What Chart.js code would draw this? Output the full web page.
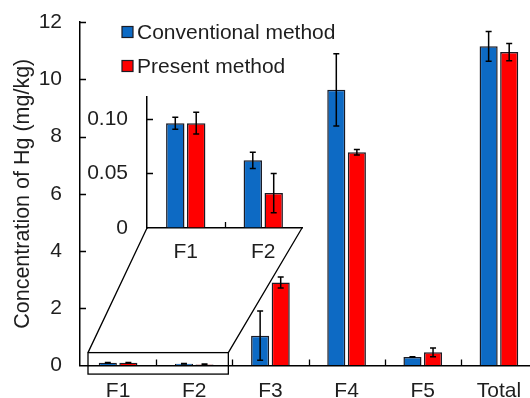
<!DOCTYPE html>
<html>
<head>
<meta charset="utf-8">
<script src="https://cdn.jsdelivr.net/npm/chart.js@4.4.0/dist/chart.umd.min.js"></script>
<style>
  html, body { margin: 0; padding: 0; background: #fff; overflow: hidden; width: 530px; height: 398px; }
  #wrap { position: relative; width: 530px; height: 398px; overflow: hidden; }
  #main { position: absolute; left: 0; top: 0; }
  #inset { position: absolute; left: 60px; top: 85px; }
</style>
</head>
<body>
<div id="wrap">
  <canvas id="main" width="540" height="398"></canvas>
  <canvas id="inset" width="252" height="185"></canvas>
</div>
<script>
// ---- data ----
const categories = ['F1', 'F2', 'F3', 'F4', 'F5', 'Total'];
const conventional = [0.096, 0.062, 1.04, 9.63, 0.30, 11.15];
const conventionalErr = [0.0055, 0.0075, 0.86, 1.26, 0.01, 0.52];
const present = [0.096, 0.032, 2.90, 7.45, 0.46, 10.95];
const presentErr = [0.010, 0.018, 0.19, 0.10, 0.15, 0.30];
const seriesNames = ['Conventional method', 'Present method'];
const yTicks = [0, 2, 4, 6, 8, 10, 12];
const insetCategories = ['F1', 'F2'];
const insetTicks = [0, 0.05, 0.10];

// ---- style ----
const FONT = 'Liberation Sans, Arial, Helvetica, sans-serif';
const BLUE = '#0D6AC4';
const RED = '#FF0000';
const EDGE = '#1b1b24';
const TEXT = '#1e1e1e';
const INSET_LEFT = 60, INSET_TOP = 85;

function zeroPad(s) { s.paddingTop = 0; s.paddingBottom = 0; s.paddingLeft = 0; s.paddingRight = 0; }

const errorBars = {
  id: 'errorBars',
  afterDatasetsDraw(chart) {
    const ctx = chart.ctx, y = chart.scales.y;
    ctx.save();
    ctx.strokeStyle = '#000';
    ctx.lineWidth = 1.5;
    chart.data.datasets.forEach((ds, di) => {
      const meta = chart.getDatasetMeta(di);
      meta.data.forEach((el, i) => {
        const v = ds.data[i], e = ds.errors[i];
        const yt = y.getPixelForValue(v + e), yb = y.getPixelForValue(v - e);
        ctx.beginPath();
        ctx.moveTo(el.x, yt); ctx.lineTo(el.x, yb);
        ctx.moveTo(el.x - 3, yt); ctx.lineTo(el.x + 3, yt);
        ctx.moveTo(el.x - 3, yb); ctx.lineTo(el.x + 3, yb);
        ctx.stroke();
      });
    });
    ctx.restore();
  }
};

function innerTicks(chart, tickValues) {
  const ctx = chart.ctx, x = chart.scales.x, y = chart.scales.y, a = chart.chartArea;
  ctx.save();
  ctx.strokeStyle = '#000';
  ctx.lineWidth = 1.3;
  ctx.beginPath();
  tickValues.forEach(v => {
    if (v === 0) return;
    const py = Math.round(y.getPixelForValue(v)) + 0.5;
    ctx.moveTo(a.left, py); ctx.lineTo(a.left + 6, py);
  });
  const n = chart.data.labels.length;
  for (let i = 1; i < n; i++) {
    const px = Math.round((x.getPixelForValue(i - 1) + x.getPixelForValue(i)) / 2) + 0.5;
    ctx.moveTo(px, a.bottom); ctx.lineTo(px, a.bottom - 6);
  }
  ctx.stroke();
  ctx.restore();
}

function makeDatasets(cv, ce, pv, pe) {
  return [
    { label: seriesNames[0], data: cv, errors: ce, backgroundColor: BLUE, borderColor: EDGE, borderWidth: 1.5,
      categoryPercentage: 0.54, barPercentage: 0.88 },
    { label: seriesNames[1], data: pv, errors: pe, backgroundColor: RED, borderColor: EDGE, borderWidth: 1.5,
      categoryPercentage: 0.54, barPercentage: 0.88 }
  ];
}

// ---- inset chart ----
const inset = new Chart(document.getElementById('inset'), {
  type: 'bar',
  data: {
    labels: insetCategories,
    datasets: makeDatasets(conventional.slice(0, 2), conventionalErr.slice(0, 2), present.slice(0, 2), presentErr.slice(0, 2))
  },
  options: {
    responsive: false, animation: false, devicePixelRatio: 1,
    layout: { padding: { top: 12, right: 10, left: 0, bottom: 0 } },
    plugins: { legend: { display: false }, tooltip: { enabled: false } },
    scales: {
      x: {
        grid: { display: true, drawOnChartArea: false, drawTicks: false, color: 'rgba(0,0,0,0)' },
        border: { display: true, color: '#000', width: 1.5 },
        ticks: { color: TEXT, font: { family: FONT, size: 21 }, padding: 12 },
        afterFit(s) { s.height = 42; zeroPad(s); }
      },
      y: {
        min: 0, max: 0.12,
        afterBuildTicks(s) { s.ticks = insetTicks.map(v => ({ value: v })); },
        grid: { display: true, drawOnChartArea: false, drawTicks: false, color: 'rgba(0,0,0,0)' },
        border: { display: true, color: '#000', width: 1.5 },
        ticks: { color: TEXT, font: { family: FONT, size: 21 }, padding: 19,
          callback: v => v === 0 ? '0' : v.toFixed(2) },
        afterFit(s) { s.width = 87; zeroPad(s); }
      }
    }
  },
  plugins: [errorBars, { id: 'insetTicks', afterDatasetsDraw(c) { innerTicks(c, insetTicks); } }]
});

// ---- main chart ----
const zoomLink = {
  id: 'zoomLink',
  afterDatasetsDraw(chart) {
    const ctx = chart.ctx, x = chart.scales.x, y = chart.scales.y;
    const catW = x.getPixelForValue(1) - x.getPixelForValue(0);
    const bl = x.getPixelForValue(0) - catW / 2 + 8;
    const br = x.getPixelForValue(1) + catW / 2 - 4;
    const bt = y.getPixelForValue(0.45);
    const bb = y.getPixelForValue(-0.3);
    const ia = inset.chartArea;
    const il = INSET_LEFT + ia.left, ir = INSET_LEFT + ia.right, ib = INSET_TOP + ia.bottom;
    ctx.save();
    ctx.strokeStyle = '#000';
    ctx.lineWidth = 1.3;
    ctx.strokeRect(bl, bt, br - bl, bb - bt);
    ctx.beginPath();
    ctx.moveTo(bl, bt); ctx.lineTo(il, ib);
    ctx.moveTo(br, bt); ctx.lineTo(ir, ib);
    ctx.stroke();
    ctx.restore();
  }
};

const legendBox = {
  id: 'legendBox',
  afterDraw(chart) {
    const ctx = chart.ctx;
    const colors = [BLUE, RED];
    ctx.save();
    ctx.font = '21px ' + FONT;
    ctx.textBaseline = 'middle';
    seriesNames.forEach((name, i) => {
      const cy = 32 + i * 34;
      ctx.fillStyle = colors[i];
      ctx.fillRect(122, cy - 5.5, 11, 11);
      ctx.strokeStyle = EDGE;
      ctx.lineWidth = 1.2;
      ctx.strokeRect(122, cy - 5.5, 11, 11);
      ctx.fillStyle = TEXT;
      ctx.fillText(name, 137, cy + 1);
    });
    ctx.restore();
  }
};

new Chart(document.getElementById('main'), {
  type: 'bar',
  data: { labels: categories, datasets: makeDatasets(conventional, conventionalErr, present, presentErr) },
  options: {
    responsive: false, animation: false, devicePixelRatio: 1,
    layout: { padding: { top: 22, right: 3, left: 0, bottom: 0 } },
    plugins: { legend: { display: false }, tooltip: { enabled: false } },
    scales: {
      x: {
        grid: { display: true, drawOnChartArea: false, drawTicks: false, color: 'rgba(0,0,0,0)' },
        border: { display: true, color: '#000', width: 1.5 },
        ticks: { color: TEXT, font: { family: FONT, size: 21 }, padding: 13 },
        afterFit(s) { s.height = 32.5; zeroPad(s); }
      },
      y: {
        min: 0, max: 12,
        afterBuildTicks(s) { s.ticks = yTicks.map(v => ({ value: v })); },
        grid: { display: true, drawOnChartArea: false, drawTicks: false, color: 'rgba(0,0,0,0)' },
        border: { display: true, color: '#000', width: 1.5 },
        ticks: { color: TEXT, font: { family: FONT, size: 21 }, padding: 18 },
        title: { display: true, text: 'Concentration of Hg (mg/kg)', color: TEXT,
          font: { family: FONT, size: 21.5 }, padding: { top: 10, bottom: 0 } },
        afterFit(s) { s.width = 80; zeroPad(s); }
      }
    }
  },
  plugins: [errorBars, zoomLink, legendBox, { id: 'mainTicks', afterDatasetsDraw(c) { innerTicks(c, yTicks); } }]
});
</script>
</body>
</html>
